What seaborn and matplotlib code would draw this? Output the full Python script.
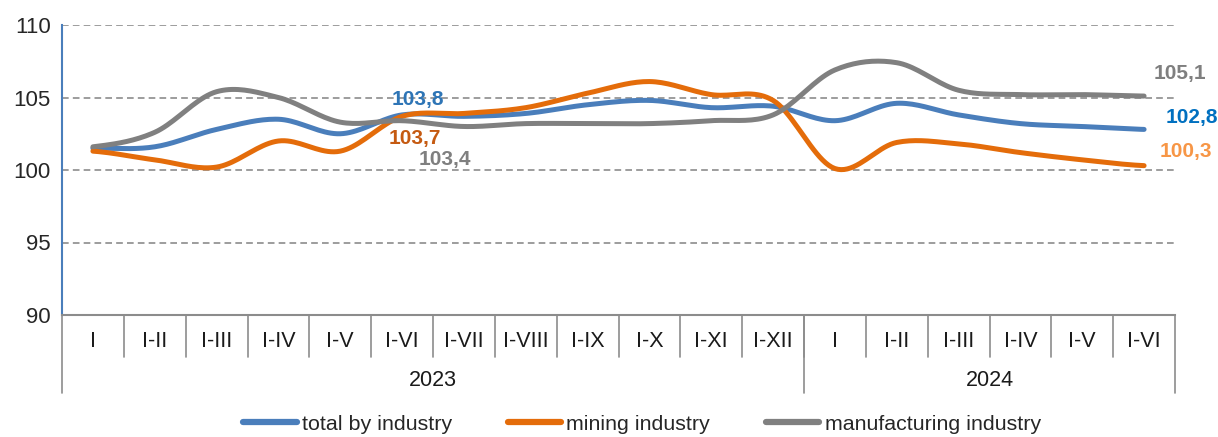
import numpy as np
import pandas as pd
import seaborn as sns
import matplotlib.pyplot as plt
from matplotlib.lines import Line2D

sns.set_style('white')
plt.rcParams['font.family'] = ['Liberation Sans', 'DejaVu Sans']

periods = ['I', 'I-II', 'I-III', 'I-IV', 'I-V', 'I-VI', 'I-VII', 'I-VIII', 'I-IX', 'I-X', 'I-XI', 'I-XII',
           'I', 'I-II', 'I-III', 'I-IV', 'I-V', 'I-VI']
years = ['2023', '2024']
year_sizes = [12, 6]

total = [101.5, 101.6, 102.8, 103.5, 102.5, 103.8, 103.7, 103.9, 104.5, 104.8, 104.3, 104.4,
         103.4, 104.6, 103.8, 103.2, 103.0, 102.8]
mining = [101.3, 100.7, 100.2, 102.0, 101.3, 103.7, 103.9, 104.3, 105.3, 106.1, 105.2, 104.8,
          100.1, 101.9, 101.8, 101.2, 100.7, 100.3]
manuf = [101.6, 102.6, 105.4, 105.0, 103.3, 103.4, 103.0, 103.2, 103.2, 103.2, 103.4, 103.8,
         106.9, 107.4, 105.5, 105.2, 105.2, 105.1]

series = {'total by industry': total, 'mining industry': mining, 'manufacturing industry': manuf}
colors = {'total by industry': '#4a7ebb', 'mining industry': '#e46c0a', 'manufacturing industry': '#808080'}


# Excel-like smoothed line (Catmull-Rom through the points)
def smooth(y, n=20):
    y = np.asarray(y, float)
    p = np.concatenate([[y[0]], y, [y[-1]]])
    xs, ys = [], []
    for i in range(len(y) - 1):
        p0, p1, p2, p3 = p[i], p[i + 1], p[i + 2], p[i + 3]
        t = np.linspace(0, 1, n, endpoint=False)
        v = 0.5 * (2 * p1 + (-p0 + p2) * t + (2 * p0 - 5 * p1 + 4 * p2 - p3) * t ** 2
                   + (-p0 + 3 * p1 - 3 * p2 + p3) * t ** 3)
        xs.append(i + t)
        ys.append(v)
    xs.append([len(y) - 1])
    ys.append([y[-1]])
    return np.concatenate(xs), np.concatenate(ys)


rows = []
for name, vals in series.items():
    sx, sy = smooth(vals)
    rows.append(pd.DataFrame({'x': sx, 'value': sy, 'series': name}))
df = pd.concat(rows)

fig = plt.figure(figsize=(12.18, 4.37), dpi=100)
ax = fig.add_axes([62 / 1218, 1 - 315 / 437, (1175 - 62) / 1218, (315 - 25) / 437])

for name in series:
    sns.lineplot(data=df[df.series == name], x='x', y='value', color=colors[name], lw=3.6,
                 ax=ax, legend=False, sort=False, solid_capstyle='round')

ax.set_xlim(-0.5, len(periods) - 0.5)
ax.set_ylim(90, 110)
ax.set_yticks([90, 95, 100, 105, 110])
for yv in [95, 100, 105, 110]:
    ax.axhline(yv, color='#8c8c8c', lw=1.2, ls=(0, (4, 2.5)), zorder=0)
ax.set_xlabel('')
ax.set_ylabel('')
ax.set_xticks([])
for s in ['top', 'right']:
    ax.spines[s].set_visible(False)
ax.spines['left'].set_color('#4a7ebb')
ax.spines['left'].set_linewidth(1.5)
ax.spines['bottom'].set_color('#8c8c8c')
ax.spines['bottom'].set_linewidth(1.5)
ax.tick_params(axis='y', direction='out', length=5, color='#4a7ebb', width=1.2, labelsize=16, pad=3)

tr = ax.get_xaxis_transform()
for i, lab in enumerate(periods):
    ax.text(i, -0.09, lab, transform=tr, ha='center', va='center', fontsize=15.5, color='#1a1a1a')
for i in range(1, len(periods)):
    ax.plot([i - 0.5, i - 0.5], [0, -0.145], transform=tr, color='#8c8c8c', lw=1.2, clip_on=False)
start = -0.5
for yr, size in zip(years, year_sizes):
    ax.plot([start, start], [0, -0.27], transform=tr, color='#8c8c8c', lw=1.2, clip_on=False)
    ax.text(start + size / 2, -0.225, yr, transform=tr, ha='center', va='center', fontsize=15.5,
            color='#1a1a1a')
    start += size
ax.plot([start, start], [0, -0.27], transform=tr, color='#8c8c8c', lw=1.2, clip_on=False)

# value labels
ax.text(5.25, total[5] + 1.05, '103,8', color='#2e75b6', fontsize=15, fontweight='bold', ha='center', va='center')
ax.text(5.2, mining[5] - 1.55, '103,7', color='#c55a11', fontsize=15, fontweight='bold', ha='center', va='center')
ax.text(5.7, manuf[5] - 2.7, '103,4', color='#7f7f7f', fontsize=15, fontweight='bold', ha='center', va='center')
ax.text(17.15, manuf[-1] + 1.55, '105,1', color='#7f7f7f', fontsize=15, fontweight='bold', ha='left', va='center')
ax.text(17.35, total[-1] + 0.85, '102,8', color='#0070c0', fontsize=15, fontweight='bold', ha='left', va='center')
ax.text(17.25, mining[-1] + 0.95, '100,3', color='#f79646', fontsize=15, fontweight='bold', ha='left', va='center')

handles = [Line2D([0], [0], color=colors[n], lw=4.5, solid_capstyle='round') for n in series]
fig.legend(handles, list(series), loc='center', bbox_to_anchor=(0.527, 1 - 424 / 437), ncol=3,
           frameon=False, fontsize=15.4, handlelength=2.5, handletextpad=0.25, columnspacing=2.6)

fig.savefig('out.png', dpi=100)
